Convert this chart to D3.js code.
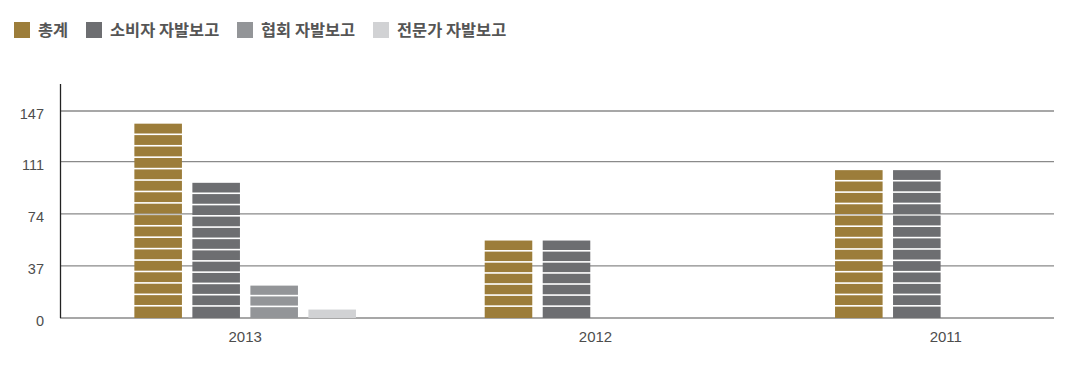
<!DOCTYPE html>
<html>
<head>
<meta charset="utf-8">
<script src="https://cdn.jsdelivr.net/npm/d3@7"></script>
<style>
  body { margin: 0; background: #fff; }
  text { font-family: "Liberation Sans", Arial, sans-serif; }
  .legend text { font-family: "Noto Sans CJK KR", "Noto Sans", sans-serif; }
</style>
</head>
<body>
<div class="chart"></div>
<script>
// data
const years = ["2013", "2012", "2011"];
const seriesNames = ["총계", "소비자 자발보고", "협회 자발보고", "전문가 자발보고"];
const total      = [138, 55, 105];
const consumer   = [96, 55, 105];
const association = [23, 0, 0];
const expert     = [6, 0, 0];
const yTicks = [0, 37, 74, 111, 147];
const colors = ["#9c7d3a", "#6d6e71", "#939598", "#d1d2d4"];

const allSeries = [total, consumer, association, expert];

const width = 1068, height = 383;
const margin = {top: 84, left: 60, right: 13, bottom: 65};

const svg = d3.select(".chart").append("svg")
  .attr("width", width)
  .attr("height", height);

const yScale = d3.scaleLinear()
  .domain([0, 147])
  .range([318, 111]);

// outer band for years, inner band for series
const x0 = d3.scaleBand()
  .domain(years)
  .range([70, 1121]);

const x1 = d3.scaleBand()
  .domain(seriesNames)
  .range([-110.8, 110.8])
  .paddingInner(0.18);

// grid lines
svg.append("g")
  .selectAll("line")
  .data(yTicks)
  .enter().append("line")
  .attr("x1", margin.left)
  .attr("x2", 1054)
  .attr("y1", d => yScale(d))
  .attr("y2", d => yScale(d))
  .attr("stroke", "#8a8a8a")
  .attr("stroke-width", 1.3);

// y labels
svg.append("g")
  .selectAll("text")
  .data(yTicks)
  .enter().append("text")
  .attr("x", 44)
  .attr("y", d => yScale(d) + 3)
  .attr("dy", "0.35em")
  .attr("text-anchor", "end")
  .attr("font-size", 14.5)
  .attr("fill", "#4d4d4d")
  .text(d => d);

// bars, split into stripes
const bars = [];
years.forEach((yr, i) => {
  allSeries.forEach((vals, k) => {
    if (vals[i] > 0) bars.push({year: yr, key: seriesNames[k], value: vals[i], color: colors[k]});
  });
});

const stripeH = 11.4;
bars.forEach(b => {
  const x = x0(b.year) + x0.bandwidth() / 2 + x1(b.key);
  const top = yScale(b.value);
  const h = yScale(0) - top;
  const n = Math.max(1, Math.round(h / stripeH));
  const seg = h / n;
  const segs = d3.range(n);
  svg.append("g")
    .selectAll("rect")
    .data(segs)
    .enter().append("rect")
    .attr("x", x)
    .attr("width", x1.bandwidth())
    .attr("y", j => top + j * seg)
    .attr("height", j => seg - (j < n - 1 ? 1.6 : 0))
    .attr("fill", b.color);
});

// y axis line
svg.append("line")
  .attr("x1", margin.left + 0.5).attr("x2", margin.left + 0.5)
  .attr("y1", margin.top).attr("y2", yScale(0))
  .attr("stroke", "#222")
  .attr("stroke-width", 1.3);

// x labels
svg.append("g")
  .selectAll("text")
  .data(years)
  .enter().append("text")
  .attr("x", d => x0(d) + x0.bandwidth() / 2)
  .attr("y", 337)
  .attr("dy", "0.35em")
  .attr("text-anchor", "middle")
  .attr("font-size", 15)
  .attr("fill", "#4d4d4d")
  .text(d => d);

// legend
const legendX = [14, 86, 237, 373];
const legend = svg.append("g")
  .attr("class", "legend")
  .selectAll("g")
  .data(seriesNames)
  .enter().append("g")
  .attr("transform", (d, i) => "translate(" + legendX[i] + ",22)");

legend.append("rect")
  .attr("width", 16)
  .attr("height", 16)
  .attr("fill", (d, i) => colors[i]);

legend.append("text")
  .attr("x", 24)
  .attr("y", 8)
  .attr("dy", "0.35em")
  .attr("font-size", 16.4)
  .attr("font-weight", "bold")
  .attr("fill", "#555")
  .text(d => d);
</script>
</body>
</html>
